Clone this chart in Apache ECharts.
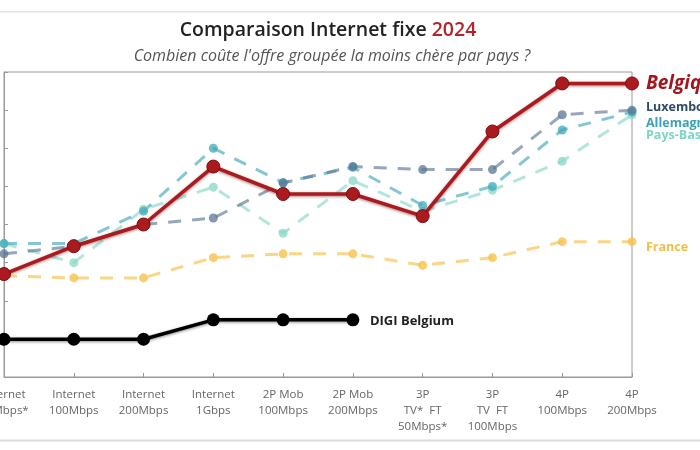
<!DOCTYPE html>
<html>
<head>
<meta charset="utf-8">
<script src="https://cdn.jsdelivr.net/npm/echarts@6/dist/echarts.min.js"></script>
<style>
html,body{margin:0;padding:0;background:#fff;}
#chart{width:700px;height:450px;}
</style>
</head>
<body>
<div id="chart"></div>
<script>
const categories = ["Internet\n50Mbps*", "Internet\n100Mbps", "Internet\n200Mbps", "Internet\n1Gbps", "2P Mob\n100Mbps", "2P Mob\n200Mbps", "3P\nTV*  FT\n50Mbps*", "3P\nTV  FT\n100Mbps", "4P\n100Mbps", "4P\n200Mbps"];
const belgique   = [27, 34.3, 40, 55.2, 48, 48, 42.2, 64.4, 77, 77];
const luxembourg = [32.3, 34.3, 40, 41.7, 50.9, 55.2, 54.4, 54.4, 68.8, 70];
const allemagne  = [35, 35, 43.5, 60, 51, 55, 45, 50, 64.8, 69.5];
const paysBas    = [35, 30, 44, 49.8, 37.7, 51.5, 43.5, 49, 56.6, 68.8];
const france     = [26.5, 26, 26, 31.3, 32.3, 32.3, 29.3, 31.3, 35.5, 35.5];
const digi       = [9.9, 9.9, 9.9, 15, 15, 15, null, null, null, null];
const yTicks = {min: 0, max: 80, interval: 10};

const font = '"Open Sans", "Noto Sans", sans-serif';

function dashed(name, data, color, labelColor, offsetY, opacity) {
  return {
    name, type: 'line', data,
    symbol: 'circle', symbolSize: 9,
    z: 2,
    itemStyle: {color: color, opacity: opacity},
    lineStyle: {color: color, width: 3, type: [13, 11], opacity: opacity * 0.85},
    endLabel: {
      show: true, formatter: name, color: labelColor, distance: 14,
      offset: [0, offsetY], fontFamily: font, fontWeight: 'bold', fontSize: 12.5
    },
    emphasis: {disabled: true}, animation: false
  };
}

const chart = echarts.init(document.getElementById('chart'));
chart.setOption({
  animation: false,
  backgroundColor: '#fff',
  title: [
    {
      text: '{a|Comparaison Internet fixe }{b|2024}',
      left: 323, top: 15, textAlign: 'center',
      textStyle: {
        rich: {
          a: {fontFamily: font, fontSize: 19.5, fontWeight: 600, color: '#222'},
          b: {fontFamily: font, fontSize: 19.5, fontWeight: 600, color: '#b3232b'}
        }
      }
    },
    {
      text: "Combien coûte l'offre groupée la moins chère par pays ?",
      left: 327, top: 43, textAlign: 'center',
      textStyle: {fontFamily: font, fontSize: 16, fontStyle: 'italic', fontWeight: 'normal', color: '#555'}
    }
  ],
  graphic: [
    {type: 'rect', shape: {x: 0, y: 11, width: 700, height: 1.5}, style: {fill: '#e4e4e4'}},
    {type: 'rect', shape: {x: 0, y: 439.5, width: 700, height: 2}, style: {fill: '#dcdcdc'}}
  ],
  grid: {left: 4, right: 68, top: 72, bottom: 73, containLabel: false, outerBoundsMode: 'none',
    show: true, borderColor: '#9a9a9a', borderWidth: 1},
  xAxis: {
    type: 'category', data: categories, boundaryGap: false,
    axisLine: {lineStyle: {color: '#9a9a9a', width: 1}},
    axisTick: {show: true, inside: true, length: 4, lineStyle: {color: '#9a9a9a'}},
    axisLabel: {color: '#666', fontFamily: font, fontSize: 11.5, lineHeight: 16, margin: 10, interval: 0},
    splitLine: {show: false}
  },
  yAxis: {
    type: 'value', min: yTicks.min, max: yTicks.max, interval: yTicks.interval,
    axisLine: {show: true, lineStyle: {color: '#9a9a9a', width: 1}},
    axisTick: {show: true, inside: true, length: 4, lineStyle: {color: '#9a9a9a'}},
    axisLabel: {show: false},
    splitLine: {show: false}
  },
  series: [
    dashed('Pays-Bas', paysBas, '#86d8c6', '#7dd6c3', 21, 0.75),
    dashed('Allemagne', allemagne, '#3fa8ba', '#3aa2b6', 11, 0.75),
    dashed('Luxembourg', luxembourg, '#5a7694', '#2d4a6a', -3, 0.75),
    dashed('France', france, '#f6c24c', '#f2bf45', 6, 0.8),
    {
      name: 'DIGI Belgium', type: 'line', data: digi,
      symbol: 'circle', symbolSize: 13, z: 4,
      itemStyle: {color: '#000'},
      lineStyle: {color: '#000', width: 3.5, shadowColor: 'rgba(0,0,0,0.45)', shadowBlur: 3, shadowOffsetY: 1},
      endLabel: {show: true, formatter: 'DIGI Belgium', color: '#222', distance: 17, offset: [0, 1],
        fontFamily: font, fontWeight: 'bold', fontSize: 13},
      emphasis: {disabled: true}
    },
    {
      name: 'Belgique', type: 'line', data: belgique,
      symbol: 'circle', symbolSize: 13, z: 5,
      itemStyle: {color: '#aa1a1e', borderColor: '#7a0e10', borderWidth: 1},
      lineStyle: {color: '#aa1a1e', width: 3.5, shadowColor: 'rgba(80,0,0,0.5)', shadowBlur: 3, shadowOffsetY: 1},
      endLabel: {show: true, formatter: 'Belgique', color: '#a3161c', distance: 14, offset: [0, 0],
        fontFamily: font, fontWeight: 'bold', fontStyle: 'italic', fontSize: 19},
      emphasis: {disabled: true}
    }
  ]
});
</script>
</body>
</html>
